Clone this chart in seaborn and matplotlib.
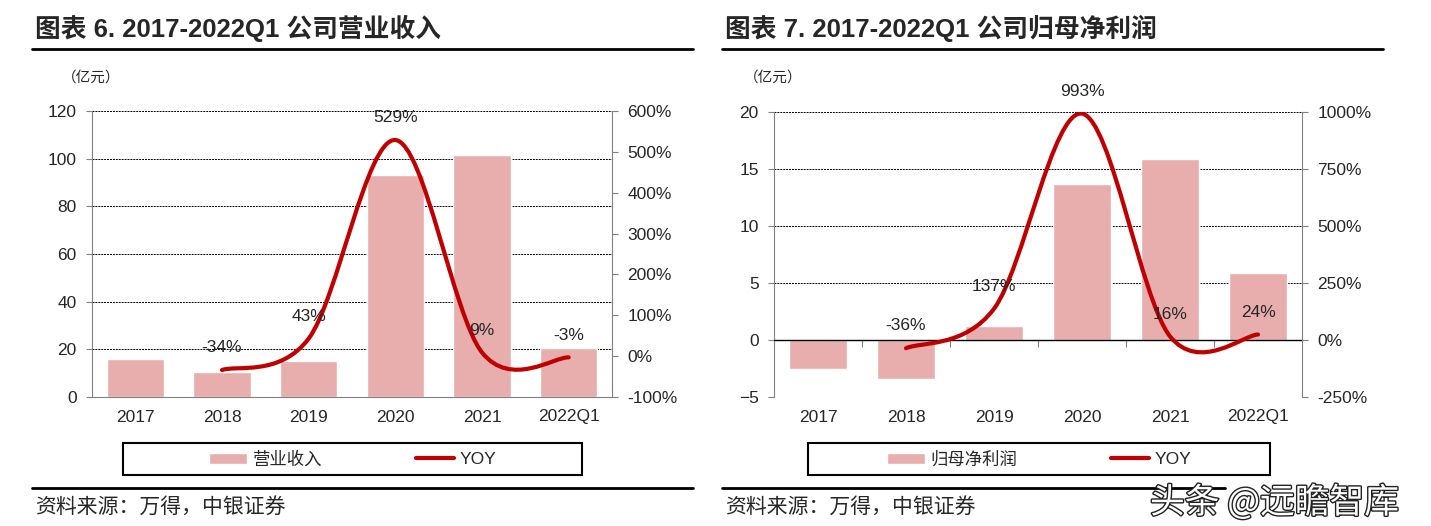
import matplotlib.pyplot as plt
import matplotlib.patheffects as pe
import numpy as np
import seaborn as sns
from matplotlib.lines import Line2D
from matplotlib.patches import Patch, PathPatch, Rectangle
from matplotlib.path import Path

# data
years = ['2017', '2018', '2019', '2020', '2021', '2022Q1']
revenue = [15.8, 10.3, 15.0, 93.1, 101.7, 20.4]          # 营业收入, 亿元
revenue_yoy = [-34, 43, 529, 9, -3]                      # YOY %, 2018..2022Q1
profit = [-2.5, -3.4, 1.25, 13.7, 15.9, 5.9]             # 归母净利润, 亿元
profit_yoy = [-36, 137, 993, 16, 24]                     # YOY %, 2018..2022Q1

BAR = '#E8AEAE'
RED = '#C00000'
GRAY = '#808080'
W, H = 1431, 526

sns.set_style('white')
plt.rcParams['font.family'] = ['Liberation Sans', 'Noto Sans CJK SC', 'DejaVu Sans']
CJK = ['Noto Sans CJK SC', 'DejaVu Sans']
TITLE = ['Liberation Sans', 'Noto Sans CJK SC', 'DejaVu Sans']


def fx(px):
    return px / W


def fy(py):
    return 1 - py / H


def smooth_path(xs, ys):
    # excel style smoothed line: cubic bezier through the points
    pts = np.column_stack([xs, ys]).astype(float)
    n = len(pts)
    verts = [pts[0]]
    codes = [Path.MOVETO]
    for i in range(n - 1):
        p0 = pts[max(i - 1, 0)]
        p1 = pts[i]
        p2 = pts[i + 1]
        p3 = pts[min(i + 2, n - 1)]
        verts += [p1 + (p2 - p0) / 6, p2 - (p3 - p1) / 6, p2]
        codes += [Path.CURVE4] * 3
    return Path(verts, codes)


def draw_panel(fig, box, values, yoy, ylim, ystep, y2lim, y2step, title, bar_name, x0, legend_box):
    l, t, r, b = box
    ax = fig.add_axes([fx(l), fy(b), fx(r - l), (b - t) / H])
    sns.barplot(x=years, y=values, color=BAR, saturation=1, width=0.66, ax=ax, zorder=2)
    ax.set_xlim(-0.5, len(years) - 0.5)
    ax.set_ylim(*ylim)
    ax.set_yticks(np.arange(ylim[0], ylim[1] + 0.1, ystep))
    ax.set_axisbelow(True)
    ax.yaxis.grid(True, color='black', linestyle=(0, (2, 1)), linewidth=0.7)
    ax.set_xlabel('')
    ax.set_ylabel('')
    for s in ['top', 'right']:
        ax.spines[s].set_visible(False)
    ax.spines['left'].set_color(GRAY)
    ax.tick_params(axis='y', direction='out', length=4, color=GRAY, pad=7, labelsize=12.5)
    ax.tick_params(axis='x', which='major', length=0, pad=9, labelsize=12.5)
    bounds = np.arange(-0.5, len(years), 1.0)

    if ylim[0] < 0:
        ax.spines['bottom'].set_visible(False)
        ax.axhline(0, color='black', lw=1, zorder=3)
        sec = ax.secondary_xaxis((0 - ylim[0]) / (ylim[1] - ylim[0]))
        sec.set_xticks(bounds[1:-1])
        sec.set_xticklabels([])
        sec.tick_params(length=5, color=GRAY, direction='out')
        sec.spines['bottom'].set_visible(False)
    else:
        ax.spines['bottom'].set_color(GRAY)
        ax.set_xticks(bounds, minor=True)
        ax.tick_params(axis='x', which='minor', length=5, color=GRAY, direction='out')

    ax2 = ax.twinx()
    ax2.set_ylim(*y2lim)
    ticks2 = np.arange(y2lim[0], y2lim[1] + 1, y2step)
    ax2.set_yticks(ticks2)
    ax2.set_yticklabels([f'{int(v)}%' for v in ticks2])
    for s in ['top', 'left', 'bottom']:
        ax2.spines[s].set_visible(False)
    ax2.spines['right'].set_color(GRAY)
    ax2.tick_params(axis='y', direction='out', length=4, color=GRAY, pad=7, labelsize=12.5)

    xs = np.arange(1, len(years))
    ax2.add_patch(PathPatch(smooth_path(xs, yoy), facecolor='none', edgecolor=RED,
                            lw=3, capstyle='round', zorder=4))
    for x, v in zip(xs, yoy):
        ax2.annotate(f'{v}%', (x, v), xytext=(0, 16), textcoords='offset points',
                     ha='center', va='center', fontsize=12.5, zorder=5)

    # header, unit, rules, legend, source
    fig.text(fx(x0), fy(28), title, fontsize=18.5, fontweight='bold', family=TITLE, va='center')
    fig.add_artist(Line2D([fx(x0 - 3), fx(x0 + 658)], [fy(49), fy(49)], color='black', lw=2))
    fig.text(fx(l - 30), fy(78), '（亿元）', fontsize=10.5, family=CJK, va='center')

    lx0, ly0, lx1, ly1 = legend_box
    fig.add_artist(Rectangle((fx(lx0), fy(ly1)), fx(lx1 - lx0), (ly1 - ly0) / H,
                             transform=fig.transFigure, fill=False, ec='black', lw=1.5))
    fig.legend(handles=[Patch(facecolor=BAR), Line2D([], [], color=RED, lw=3)],
               labels=[bar_name, 'YOY'], loc='center',
               bbox_to_anchor=(fx((lx0 + lx1) / 2), fy((ly0 + ly1) / 2)),
               ncol=2, frameon=False, handlelength=2.2, handleheight=0.6,
               handletextpad=0.3, columnspacing=5.4, prop={'size': 12.5})
    fig.text(fx(x0), fy(507), '资料来源：万得，中银证券', fontsize=15, style='italic',
             family=CJK, va='center')
    return ax, ax2


fig = plt.figure(figsize=(W / 100, H / 100), dpi=100)

draw_panel(fig, (92, 111, 612, 397), revenue, revenue_yoy, (0, 120), 20, (-100, 600), 100,
           '图表 6. 2017-2022Q1 公司营业收入', '营业收入', 35, (123, 443, 582, 475))
fig.add_artist(Line2D([fx(32), fx(693)], [fy(488), fy(488)], color='black', lw=2))

draw_panel(fig, (774, 112, 1302, 397), profit, profit_yoy, (-5, 20), 5, (-250, 1000), 250,
           '图表 7. 2017-2022Q1 公司归母净利润', '归母净利润', 725, (808, 443, 1270, 475))
fig.add_artist(Line2D([fx(722), fx(1225)], [fy(488), fy(488)], color='black', lw=2))

fig.text(fx(1150), fy(503), '头条 @远瞻智库', fontsize=25, color='white', family=CJK,
         va='center', ha='left',
         path_effects=[pe.withStroke(linewidth=2, foreground='#222222')])

fig.savefig('out.png', dpi=100)
